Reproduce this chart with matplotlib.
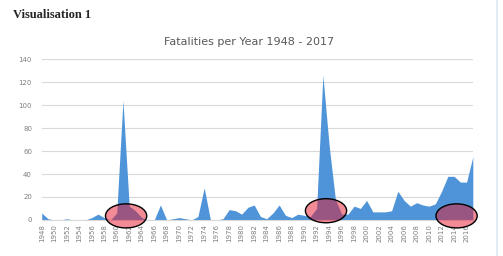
import matplotlib
matplotlib.use("Agg")
import matplotlib.pyplot as plt
from matplotlib.patches import Ellipse, Rectangle

'''
Fatalities per year area chart with highlighted periods
'''

years = list(range(1948, 2018))
fatalities = [6, 1, 0, 0, 1, 0, 0, 0, 2, 5,
              2, 0, 6, 104, 12, 8, 2, 0, 0, 13,
              0, 1, 2, 1, 0, 3, 28, 0, 0, 1,
              9, 8, 5, 11, 13, 3, 1, 6, 13, 4,
              2, 5, 4, 3, 10, 126, 65, 18, 5, 5,
              12, 10, 17, 7, 7, 7, 8, 25, 17, 12,
              15, 13, 12, 14, 25, 38, 38, 33, 33, 55]
tick_years = years[::2]
yticks = [0, 20, 40, 60, 80, 100, 120, 140]

# highlighted periods (centre year)
highlights = [1961.5, 1993.5, 2014.4]
highlight_y = [3.5, 8, 3.5]

fig = plt.figure(figsize=(5.03, 2.56), dpi=100)
ax = fig.add_axes([0.083, 0.141, 0.857, 0.627])

ax.fill_between(years, fatalities, 0, color="#4f94d8", lw=0, zorder=2)
ax.set_xlim(1948, 2017)
ax.set_ylim(0, 140)
ax.set_yticks(yticks)
ax.set_xticks(tick_years)
ax.set_xticklabels([str(y) for y in tick_years], rotation=90)
ax.tick_params(length=0, labelsize=5, colors="#7f7f7f", pad=3)
ax.tick_params(axis="y", pad=7)
ax.grid(axis="y", color="#d9d9d9", lw=0.8, zorder=0)
for s in ["top", "right", "left"]:
  ax.spines[s].set_visible(False)
ax.spines["bottom"].set_color("#d9d9d9")

for cx, cy in zip(highlights, highlight_y):
  e = Ellipse((cx, cy), 6.6, 21, facecolor="#e6192e", alpha=0.5,
              edgecolor="none", clip_on=False, zorder=3)
  ax.add_patch(e)
  e2 = Ellipse((cx, cy), 6.6, 21, facecolor="none", edgecolor="black",
               lw=1.0, clip_on=False, zorder=4)
  ax.add_patch(e2)

fig.text(0.495, 0.835, "Fatalities per Year 1948 - 2017", ha="center",
         va="center", fontsize=8, color="#595959")
fig.text(0.026, 0.94, "Visualisation 1", ha="left", va="center",
         fontsize=9, fontweight="bold", family="Liberation Serif",
         color="#262626")

# faint frame of the screenshot
fig.add_artist(Rectangle((-0.01, -0.01), 0.998, 1.015, transform=fig.transFigure,
                         fill=False, edgecolor="#dce7f2", lw=1.2))

fig.savefig("out.png", dpi=100)
